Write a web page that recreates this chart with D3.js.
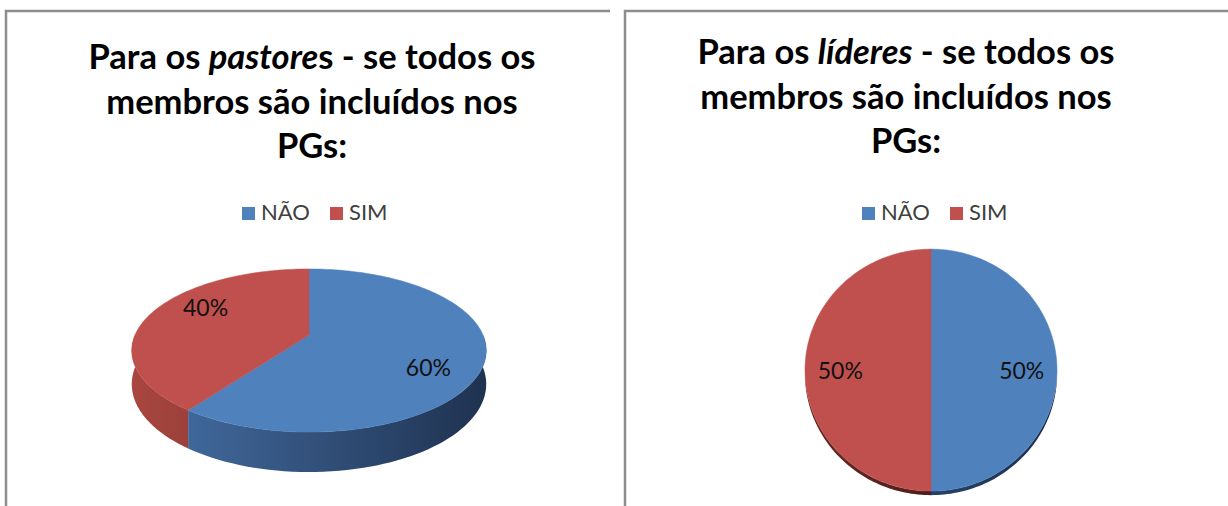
<!DOCTYPE html>
<html>
<head>
<meta charset="utf-8">
<script src="https://cdnjs.cloudflare.com/ajax/libs/d3/7.8.5/d3.min.js"></script>
<style>
  body { margin: 0; background: white; }
</style>
</head>
<body>
<div id="viz-container"></div>
<script>
// data
let categories = ["NÃO", "SIM"];
let pastoresValues = [60, 40];
let lideresValues = [50, 50];
let colors = ["#4f81bd", "#c0504d"];
let sideColors = [["#40679a", "#1f3250"], ["#a9463f", "#9c403b"]];
let rimColors = [["#27416a", "#1d2f4b"], ["#6a2a27", "#4e1e1c"]];

let viz = d3.select("#viz-container")
  .append("svg")
    .attr("font-family", "Lato, 'Open Sans', sans-serif")
    .attr("width", 1228)
    .attr("height", 506)
;

let defs = viz.append("defs");

// panel frames (left one is cut off on the right, right one runs off the page)
viz.append("path")
  .attr("d", "M6,506 V11 H610")
  .attr("fill", "none")
  .attr("stroke", "#8d8d8d")
  .attr("stroke-width", 2.5)
;
viz.append("path")
  .attr("d", "M625,506 V11 H1228")
  .attr("fill", "none")
  .attr("stroke", "#8d8d8d")
  .attr("stroke-width", 2.5)
;

// titles, line by line; italic word split into its own tspan
function drawTitle(cx, y0, lines){
  let t = viz.append("text")
    .attr("text-anchor", "middle")
    .attr("font-size", 34.5)
    .attr("font-weight", "bold")
    .attr("fill", "#000");
  lines.forEach(function(parts, i){
    let line = t.append("tspan").attr("x", cx).attr("y", y0 + i * 44.5);
    parts.forEach(function(p){
      line.append("tspan")
        .attr("font-style", p.italic ? "italic" : "normal")
        .text(p.text);
    });
  });
}

drawTitle(312, 69, [
  [{text: "Para os "}, {text: "pastore", italic: true}, {text: "s - se todos os"}],
  [{text: "membros são incluídos nos"}],
  [{text: "PGs:"}]
]);
drawTitle(906, 64, [
  [{text: "Para os "}, {text: "líderes", italic: true}, {text: " - se todos os"}],
  [{text: "membros são incluídos nos"}],
  [{text: "PGs:"}]
]);

// legends
function drawLegend(x0, y){
  let xs = d3.scalePoint().domain(categories).range([x0, x0 + 88]);
  let items = viz.selectAll(null).data(categories).enter()
    .append("g")
      .attr("transform", function(d){ return "translate(" + xs(d) + "," + y + ")"; });
  items.append("rect")
    .attr("x", 0).attr("y", -13)
    .attr("width", 13).attr("height", 13)
    .attr("fill", function(d, i){ return colors[i]; });
  items.append("text")
    .attr("x", 19).attr("y", 0)
    .attr("font-size", 22)
    .attr("fill", "#404040")
    .text(function(d){ return d; });
}
drawLegend(242, 220);
drawLegend(862, 220);

// perspective projection of a point on the unit disc (u right, v towards viewer)
function project(p, u, v, z){
  let s = p.D / (p.D - v);
  return [p.cx + p.rx * u * s, p.cy + p.ry * v * s + p.depth * z * s];
}
function pt(p, t, k, z){
  return project(p, k * Math.sin(t), -k * Math.cos(t), z);
}

let line = d3.line();

function drawPie(p, values, gid){
  let arcs = d3.pie().sort(null)(values);
  let g = viz.append("g");

  // side walls, only the front half (pi/2 .. 3pi/2) can be seen
  arcs.forEach(function(a, i){
    let t0 = Math.max(a.startAngle, Math.PI / 2);
    let t1 = Math.min(a.endAngle, 3 * Math.PI / 2);
    if (t1 <= t0) return;
    let ts = d3.range(0, 61).map(function(j){ return t0 + (t1 - t0) * j / 60; });
    let top = ts.map(function(t){ return pt(p, t, 1, 0); });
    let bottom = ts.slice().reverse().map(function(t){ return pt(p, t, 1, 1); });
    let pal = p.rim ? rimColors[i] : sideColors[i];
    let xExt = d3.extent(top, function(d){ return d[0]; });
    let grad = defs.append("linearGradient")
      .attr("id", gid + i)
      .attr("gradientUnits", "userSpaceOnUse")
      .attr("x1", xExt[0]).attr("x2", xExt[1])
      .attr("y1", 0).attr("y2", 0);
    grad.append("stop").attr("offset", 0).attr("stop-color", pal[0]);
    grad.append("stop").attr("offset", 1).attr("stop-color", pal[1]);
    g.append("path")
      .attr("d", line(top.concat(bottom)) + "Z")
      .attr("fill", "url(#" + gid + i + ")");
  });

  // top face
  arcs.forEach(function(a, i){
    let n = Math.max(8, Math.round((a.endAngle - a.startAngle) * 40));
    let ts = d3.range(0, n + 1).map(function(j){ return a.startAngle + (a.endAngle - a.startAngle) * j / n; });
    let pts = [project(p, 0, 0, 0)].concat(ts.map(function(t){ return pt(p, t, 1, 0); }));
    g.append("path")
      .attr("d", line(pts) + "Z")
      .attr("fill", colors[i])
      .attr("stroke", colors[i])
      .attr("stroke-width", 0.5);
  });

  // percentage labels
  let total = d3.sum(values);
  arcs.forEach(function(a, i){
    let mid = (a.startAngle + a.endAngle) / 2 + p.labelShift;
    let c = pt(p, mid, p.labelR, 0);
    g.append("text")
      .attr("x", c[0]).attr("y", c[1])
      .attr("text-anchor", "middle")
      .attr("dominant-baseline", "central")
      .attr("font-size", 23)
      .attr("fill", "#111")
      .text(d3.format(".0%")(values[i] / total));
  });
}

drawPie({cx: 309, cy: 335, rx: 174, ry: 78.6, D: 5.26, depth: 32.4, labelR: 0.74, labelShift: 0.22}, pastoresValues, "sideL");
drawPie({cx: 931, cy: 370, rx: 126, ry: 121, D: 1000, depth: 4, rim: true, labelR: 0.72, labelShift: 0}, lideresValues, "sideR");
</script>
</body>
</html>
